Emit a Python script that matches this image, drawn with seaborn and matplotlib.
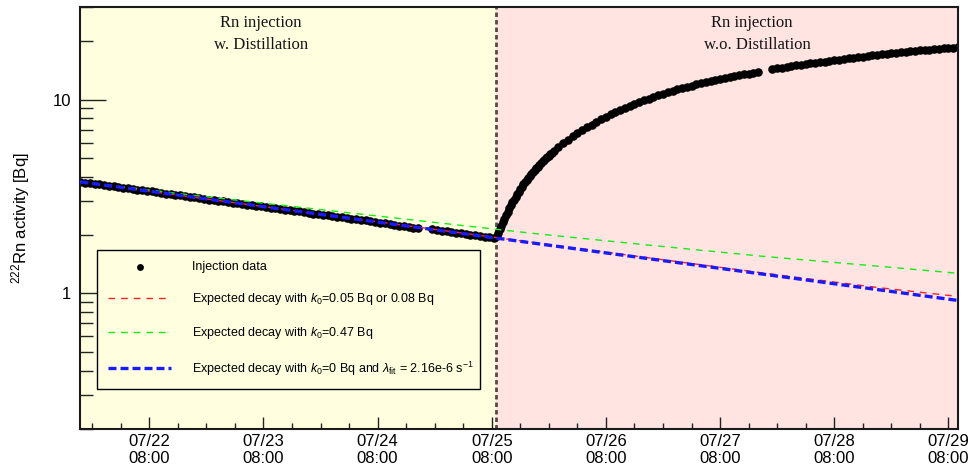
import numpy as np
import pandas as pd
import matplotlib
matplotlib.use("Agg")
import matplotlib.pyplot as plt
import matplotlib.dates as mdates
from matplotlib.ticker import LogLocator, NullFormatter, FuncFormatter
import seaborn as sns

# ---- measured 222Rn activity [Bq] ----
# phase 1: injection with distillation, hourly from 07/21 17:30 (NaN = no data)
distill_start = "2021-07-21 17:30"
distill_activity = [
    3.77, 3.73, 3.71, 3.67, 3.65, 3.62, 3.60, 3.56, 3.53, 3.51,
    3.49, 3.45, 3.42, 3.40, 3.38, 3.36, 3.32, 3.30, 3.27, 3.26,
    3.23, 3.20, 3.17, 3.15, 3.13, 3.11, 3.08, 3.05, 3.03, 3.01,
    2.99, 2.97, 2.94, 2.92, 2.89, 2.87, 2.86, 2.84, 2.81, 2.78,
    2.76, 2.75, 2.73, 2.70, 2.68, 2.66, 2.65, 2.63, 2.60, 2.58,
    2.56, 2.55, 2.53, 2.50, 2.48, 2.47, 2.45, 2.43, 2.41, 2.39,
    2.38, 2.36, 2.33, 2.31, 2.30, 2.28, 2.26, 2.24, 2.22, 2.20,
    2.18, 2.17, np.nan, np.nan, 2.15, 2.13, 2.11, 2.09, 2.07, 2.05,
    2.04, 2.02, 2.00, 1.99, 1.97, 1.96, 1.95, 1.93,
]
# phase 2: injection without distillation
# first 12 h sampled every 20 min from 07/25 09:00
nodistill_fast_start = "2021-07-25 09:00"
nodistill_fast_activity = [
    1.97, 2.06, 2.14, 2.24, 2.33, 2.43, 2.53, 2.64, 2.75, 2.86,
    2.95, 3.05, 3.16, 3.25, 3.35, 3.45, 3.55, 3.66, 3.76, 3.86,
    3.95, 4.04, 4.14, 4.23, 4.33, 4.42, 4.51, 4.61, 4.70, 4.79,
    4.88, 4.97, 5.06, 5.14, 5.23, 5.32,
]
# then hourly from 07/25 21:00 (NaN = no data)
nodistill_start = "2021-07-25 21:00"
nodistill_activity = [
    5.41, 5.70, 5.95, 6.21, 6.46, 6.70, 6.95, 7.18, 7.42, 7.66,
    7.93, 8.12, 8.37, 8.62, 8.83, 9.04, 9.26, 9.47, 9.73, 9.93,
    10.1, 10.3, 10.5, 10.7, 10.9, 11.1, 11.3, 11.5, 11.6, 11.8,
    11.95, 12.1, 12.3, 12.5, 12.6, 12.8, 12.9, 13.1, 13.2, 13.4,
    13.5, 13.6, 13.75, 13.9, np.nan, np.nan, 14.35, 14.45, 14.6, 14.7,
    14.9, 15.0, 15.1, 15.25, 15.4, 15.5, 15.6, 15.7, 15.8, 15.95,
    16.05, 16.2, 16.3, 16.4, 16.5, 16.6, 16.7, 16.9, 16.96, 17.1,
    17.2, 17.3, 17.4, 17.5, 17.6, 17.7, 17.8, 17.9, 18.0, 18.1,
    18.2, 18.3, 18.4, 18.45, 18.5, 18.6,
]

# moment the distillation was switched off
switch_time = "2021-07-25 08:50"

# ---- expected decay curves [Bq] ----
curve_times = ["2021-07-21 17:30", "2021-07-22 17:30", "2021-07-23 17:30",
               "2021-07-24 17:30", "2021-07-25 17:30", "2021-07-26 17:30",
               "2021-07-27 17:30", "2021-07-28 17:30", "2021-07-29 10:00"]
decay_k0_small = [3.76, 3.13, 2.61, 2.18, 1.82, 1.52, 1.27, 1.07, 0.965]
decay_k0_047 = [3.77, 3.20, 2.75, 2.36, 2.03, 1.77, 1.55, 1.38, 1.27]
fit_times = ["2021-07-21 17:30", "2021-07-29 10:00"]
decay_fit = [3.76, 0.92]

legend_labels = [
    "Injection data",
    r"Expected decay with $k_{\mathit{0}}$=0.05 Bq or 0.08 Bq",
    r"Expected decay with $k_{\mathit{0}}$=0.47 Bq",
    r"Expected decay with $k_{\mathit{0}}$=0 Bq and $\lambda_{\rm fit}$ = 2.16e-6 s$^{-1}$",
]
phase_titles = [("Rn injection", "w. Distillation"),
                ("Rn injection", "w.o. Distillation")]

x_range = ("2021-07-21 17:26", "2021-07-29 10:02")
y_range = (0.2, 30)

# ---- frames ----
def series(start, values, freq):
    return pd.DataFrame({"time": pd.date_range(start, periods=len(values), freq=freq),
                         "activity": values})

data = pd.concat([
    series(distill_start, distill_activity, "h"),
    series(nodistill_fast_start, nodistill_fast_activity, "20min"),
    series(nodistill_start, nodistill_activity, "h"),
], ignore_index=True).dropna()
curves = pd.DataFrame({"time": pd.to_datetime(curve_times),
                       "k_small": decay_k0_small, "k_047": decay_k0_047})
fit = pd.DataFrame({"time": pd.to_datetime(fit_times), "activity": decay_fit})

# ---- style ----
plt.rcParams["font.family"] = ["Liberation Sans", "DejaVu Sans"]
plt.rcParams["mathtext.fontset"] = "custom"
plt.rcParams["mathtext.rm"] = "Liberation Sans"
plt.rcParams["mathtext.it"] = "Liberation Sans:italic"
plt.rcParams["mathtext.bf"] = "Liberation Sans:bold"

fig = plt.figure(figsize=(9.7, 4.71), dpi=100)
ax = fig.add_axes([0.0825, 0.0892, 0.9052, 0.8960])

t0, t1 = pd.to_datetime(x_range[0]), pd.to_datetime(x_range[1])
ts = pd.to_datetime(switch_time)
ax.set_facecolor("#ffffe0")
ax.axvspan(ts, t1, color="#ffe4e2", lw=0, zorder=0)
ax.axvline(ts, color="#5a4742", lw=2.0, linestyle=(0, (1.6, 1.1)), zorder=1.5)

sns.scatterplot(data=data, x="time", y="activity", ax=ax, color="black",
                s=38, linewidth=0, zorder=2, label=legend_labels[0])
sns.lineplot(data=curves, x="time", y="k_small", ax=ax, color="#ff2020",
             lw=1.0, linestyle=(0, (4.8, 4.3)), zorder=3, label=legend_labels[1])
sns.lineplot(data=curves, x="time", y="k_047", ax=ax, color="#11ee11",
             lw=1.0, linestyle=(0, (4.8, 4.3)), zorder=3, label=legend_labels[2])
sns.lineplot(data=fit, x="time", y="activity", ax=ax, color="#1a1aff",
             lw=2.4, linestyle=(0, (2.4, 1.2)), zorder=4, label=legend_labels[3])

# axes scales and ticks
ax.set_yscale("log")
ax.set_ylim(*y_range)
ax.set_xlim(t0, t1)
ax.xaxis.set_major_locator(mdates.HourLocator(byhour=[8]))
ax.xaxis.set_minor_locator(mdates.HourLocator(byhour=[2, 8, 14, 20]))
ax.xaxis.set_major_formatter(mdates.DateFormatter("%m/%d\n%H:%M"))
ax.yaxis.set_major_locator(LogLocator(base=10))
ax.yaxis.set_minor_locator(LogLocator(base=10, subs=np.arange(2, 10)))
ax.yaxis.set_major_formatter(FuncFormatter(lambda v, _: f"{v:g}"))
ax.yaxis.set_minor_formatter(NullFormatter())

ax.tick_params(axis="x", which="major", direction="in", length=8.6, width=1.0,
               labelsize=12, pad=3.5, top=False, color="#222222")
ax.tick_params(axis="x", which="minor", direction="in", length=4.3, width=1.0,
               top=False, color="#222222")
ax.tick_params(axis="y", which="major", direction="in", length=18.7, width=1.0,
               labelsize=12, pad=6.5, right=False, color="#222222")
ax.tick_params(axis="y", which="minor", direction="in", length=9.4, width=1.0,
               right=False, color="#222222")
for sp in ax.spines.values():
    sp.set_linewidth(1.5)
    sp.set_color("#1a1a1a")

ax.set_xlabel("")
ax.set_ylabel(r"$^{222}$Rn activity [Bq]", fontsize=12)
ax.yaxis.set_label_coords(-0.055, 0.5)

# phase titles
serif = ["Liberation Serif", "DejaVu Serif"]
title_pos = [((0.2056, 0.962), (0.2067, 0.910)),
             ((0.7648, 0.962), (0.7717, 0.910))]
for (l1, l2), (p1, p2) in zip(phase_titles, title_pos):
    ax.text(*p1, l1, transform=ax.transAxes, ha="center", va="center",
            fontsize=12, family=serif, color="#151515")
    ax.text(*p2, l2, transform=ax.transAxes, ha="center", va="center",
            fontsize=12, family=serif, color="#151515")

# legend
handles, labels = ax.get_legend_handles_labels()
order = [labels.index(l) for l in legend_labels]
leg = ax.legend([handles[i] for i in order], [labels[i] for i in order],
                loc="upper left", bbox_to_anchor=(0.0194, 0.1019, 0.4362, 0.3223),
                mode="expand", fontsize=9, frameon=True, fancybox=False,
                edgecolor="black", facecolor="#ffffe0", framealpha=1,
                handlelength=5.0, handletextpad=1.7, borderpad=0.9,
                labelspacing=1.45, borderaxespad=0.0, scatterpoints=1,
                markerscale=0.8)
leg.get_frame().set_linewidth(1.0)

fig.savefig("out.png", dpi=100, facecolor="white")
